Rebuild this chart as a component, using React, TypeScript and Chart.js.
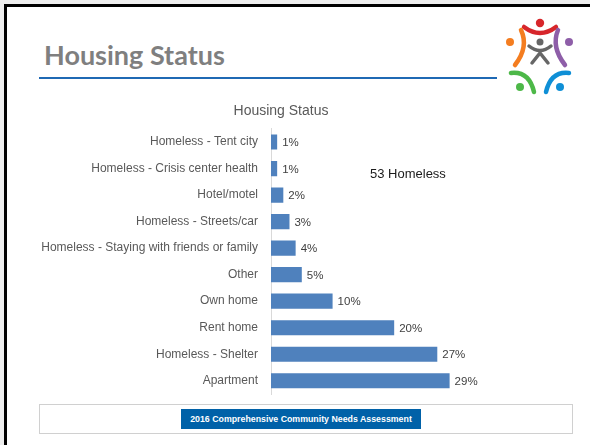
import React, { useEffect, useRef } from "react";
import { Chart, registerables } from "chart.js";

Chart.register(...registerables);

const categories = [
  "Homeless - Tent city",
  "Homeless - Crisis center health",
  "Hotel/motel",
  "Homeless - Streets/car",
  "Homeless - Staying with friends or family",
  "Other",
  "Own home",
  "Rent home",
  "Homeless - Shelter",
  "Apartment",
];
const values = [1, 1, 2, 3, 4, 5, 10, 20, 27, 29];
const valueLabels = ["1%", "1%", "2%", "3%", "4%", "5%", "10%", "20%", "27%", "29%"];

const FONT = "'Liberation Sans', Arial, sans-serif";

const dataLabelPlugin = {
  id: "barValueLabels",
  afterDatasetsDraw(chart: any) {
    const ctx = chart.ctx;
    const meta = chart.getDatasetMeta(0);
    ctx.save();
    ctx.font = `11.5px ${FONT}`;
    ctx.fillStyle = "#404040";
    ctx.textAlign = "left";
    ctx.textBaseline = "middle";
    meta.data.forEach((bar: any, i: number) => {
      ctx.fillText(valueLabels[i], bar.x + 5, bar.y + 1);
    });
    ctx.restore();
  },
};

function BarChart() {
  const ref = useRef<HTMLCanvasElement | null>(null);
  useEffect(() => {
    if (!ref.current) return;
    const chart = new Chart(ref.current, {
      type: "bar",
      data: {
        labels: categories,
        datasets: [
          {
            data: values,
            backgroundColor: "#4f81bd",
            borderWidth: 0,
            categoryPercentage: 0.57,
            barPercentage: 1,
          },
        ],
      },
      options: {
        indexAxis: "y",
        animation: false,
        responsive: false,
        maintainAspectRatio: false,
        layout: { padding: { left: 0, right: 0, top: 0, bottom: 1 } },
        plugins: {
          legend: { display: false },
          tooltip: { enabled: false },
          title: {
            display: true,
            text: "Housing Status",
            color: "#595959",
            font: { family: FONT, size: 14, weight: "normal" },
            padding: { top: 8, bottom: 9 },
          },
        },
        scales: {
          x: { display: false, min: 0, max: 44 },
          y: {
            grid: { display: false, drawTicks: false },
            border: { display: true, color: "#d9d9d9", width: 1 },
            ticks: {
              color: "#595959",
              font: { family: FONT, size: 12 },
              padding: 13,
            },
            afterFit: (scale: any) => {
              scale.width = 251;
              scale.paddingTop = 0;
              scale.paddingBottom = 0;
            },
          },
        },
      },
      plugins: [dataLabelPlugin],
    } as any);
    return () => chart.destroy();
  }, []);
  return <canvas ref={ref} width={522} height={300} style={{ position: "absolute", left: 20, top: 95, width: 522, height: 300 }} />;
}

function Logo() {
  return (
    <svg width={72} height={80} viewBox="0 0 72 80" style={{ position: "absolute", left: 503, top: 17 }}>
      <g fill="none" strokeWidth={4.5} strokeLinecap="round">
        <path d="M 21 10 Q 37 22 53 10" stroke="#d7262b" />
        <path d="M 18 13 Q 26 30 12 48" stroke="#f47d20" />
        <path d="M 55 13 Q 48 30 62 48" stroke="#8e5ea8" />
        <path d="M 8 56 Q 26 54 31 75" stroke="#4db848" />
        <path d="M 66 56 Q 48 54 43 75" stroke="#0f8fd6" />
        <path d="M 26 29 Q 37 38 48 29" stroke="#666666" strokeWidth={3.5} />
        <path d="M 29 46 L 37 36 L 45 46" stroke="#666666" strokeWidth={3.5} />
      </g>
      <circle cx={37} cy={6} r={4.2} fill="#d7262b" />
      <circle cx={7} cy={25} r={4} fill="#f47d20" />
      <circle cx={66} cy={25} r={4} fill="#8e5ea8" />
      <circle cx={17} cy={70} r={4} fill="#4db848" />
      <circle cx={57} cy={70} r={4} fill="#0f8fd6" />
      <circle cx={37} cy={25} r={3.5} fill="#666666" />
    </svg>
  );
}

export default function App() {
  return (
    <div style={{ position: "fixed", left: 0, top: 0, width: 590, height: 445, background: "#eeeeee", overflow: "hidden" }}>
      <div
        style={{
          position: "absolute",
          left: 4,
          top: 4,
          width: 600,
          height: 460,
          background: "#ffffff",
          borderTop: "3px solid #000",
          borderLeft: "3px solid #000",
        }}
      />
      <div
        style={{
          position: "absolute",
          left: 44,
          top: 38,
          fontFamily: "Lato, 'Liberation Sans', sans-serif",
          fontWeight: 700,
          fontSize: 27,
          color: "#7f7f7f",
          whiteSpace: "nowrap",
          lineHeight: "normal",
        }}
      >
        Housing Status
      </div>
      <div style={{ position: "absolute", left: 39, top: 77, width: 458, height: 2, background: "#1f69b4" }} />
      <Logo />
      <BarChart />
      <div
        style={{
          position: "absolute",
          left: 370,
          top: 166,
          fontFamily: FONT,
          fontSize: 13,
          color: "#1a1a1a",
          whiteSpace: "nowrap",
        }}
      >
        53 Homeless
      </div>
      <div
        style={{
          position: "absolute",
          left: 39,
          top: 404,
          width: 534,
          height: 30,
          boxSizing: "border-box",
          border: "1px solid #d0d0d0",
          background: "#fff",
        }}
      />
      <div
        style={{
          position: "absolute",
          left: 181,
          top: 409,
          width: 240,
          height: 20,
          background: "#0061a8",
          color: "#fff",
          fontFamily: FONT,
          fontWeight: 700,
          fontSize: 8.8,
          lineHeight: "20px",
          textAlign: "center",
          whiteSpace: "nowrap",
        }}
      >
        2016 Comprehensive Community Needs Assessment
      </div>
    </div>
  );
}
